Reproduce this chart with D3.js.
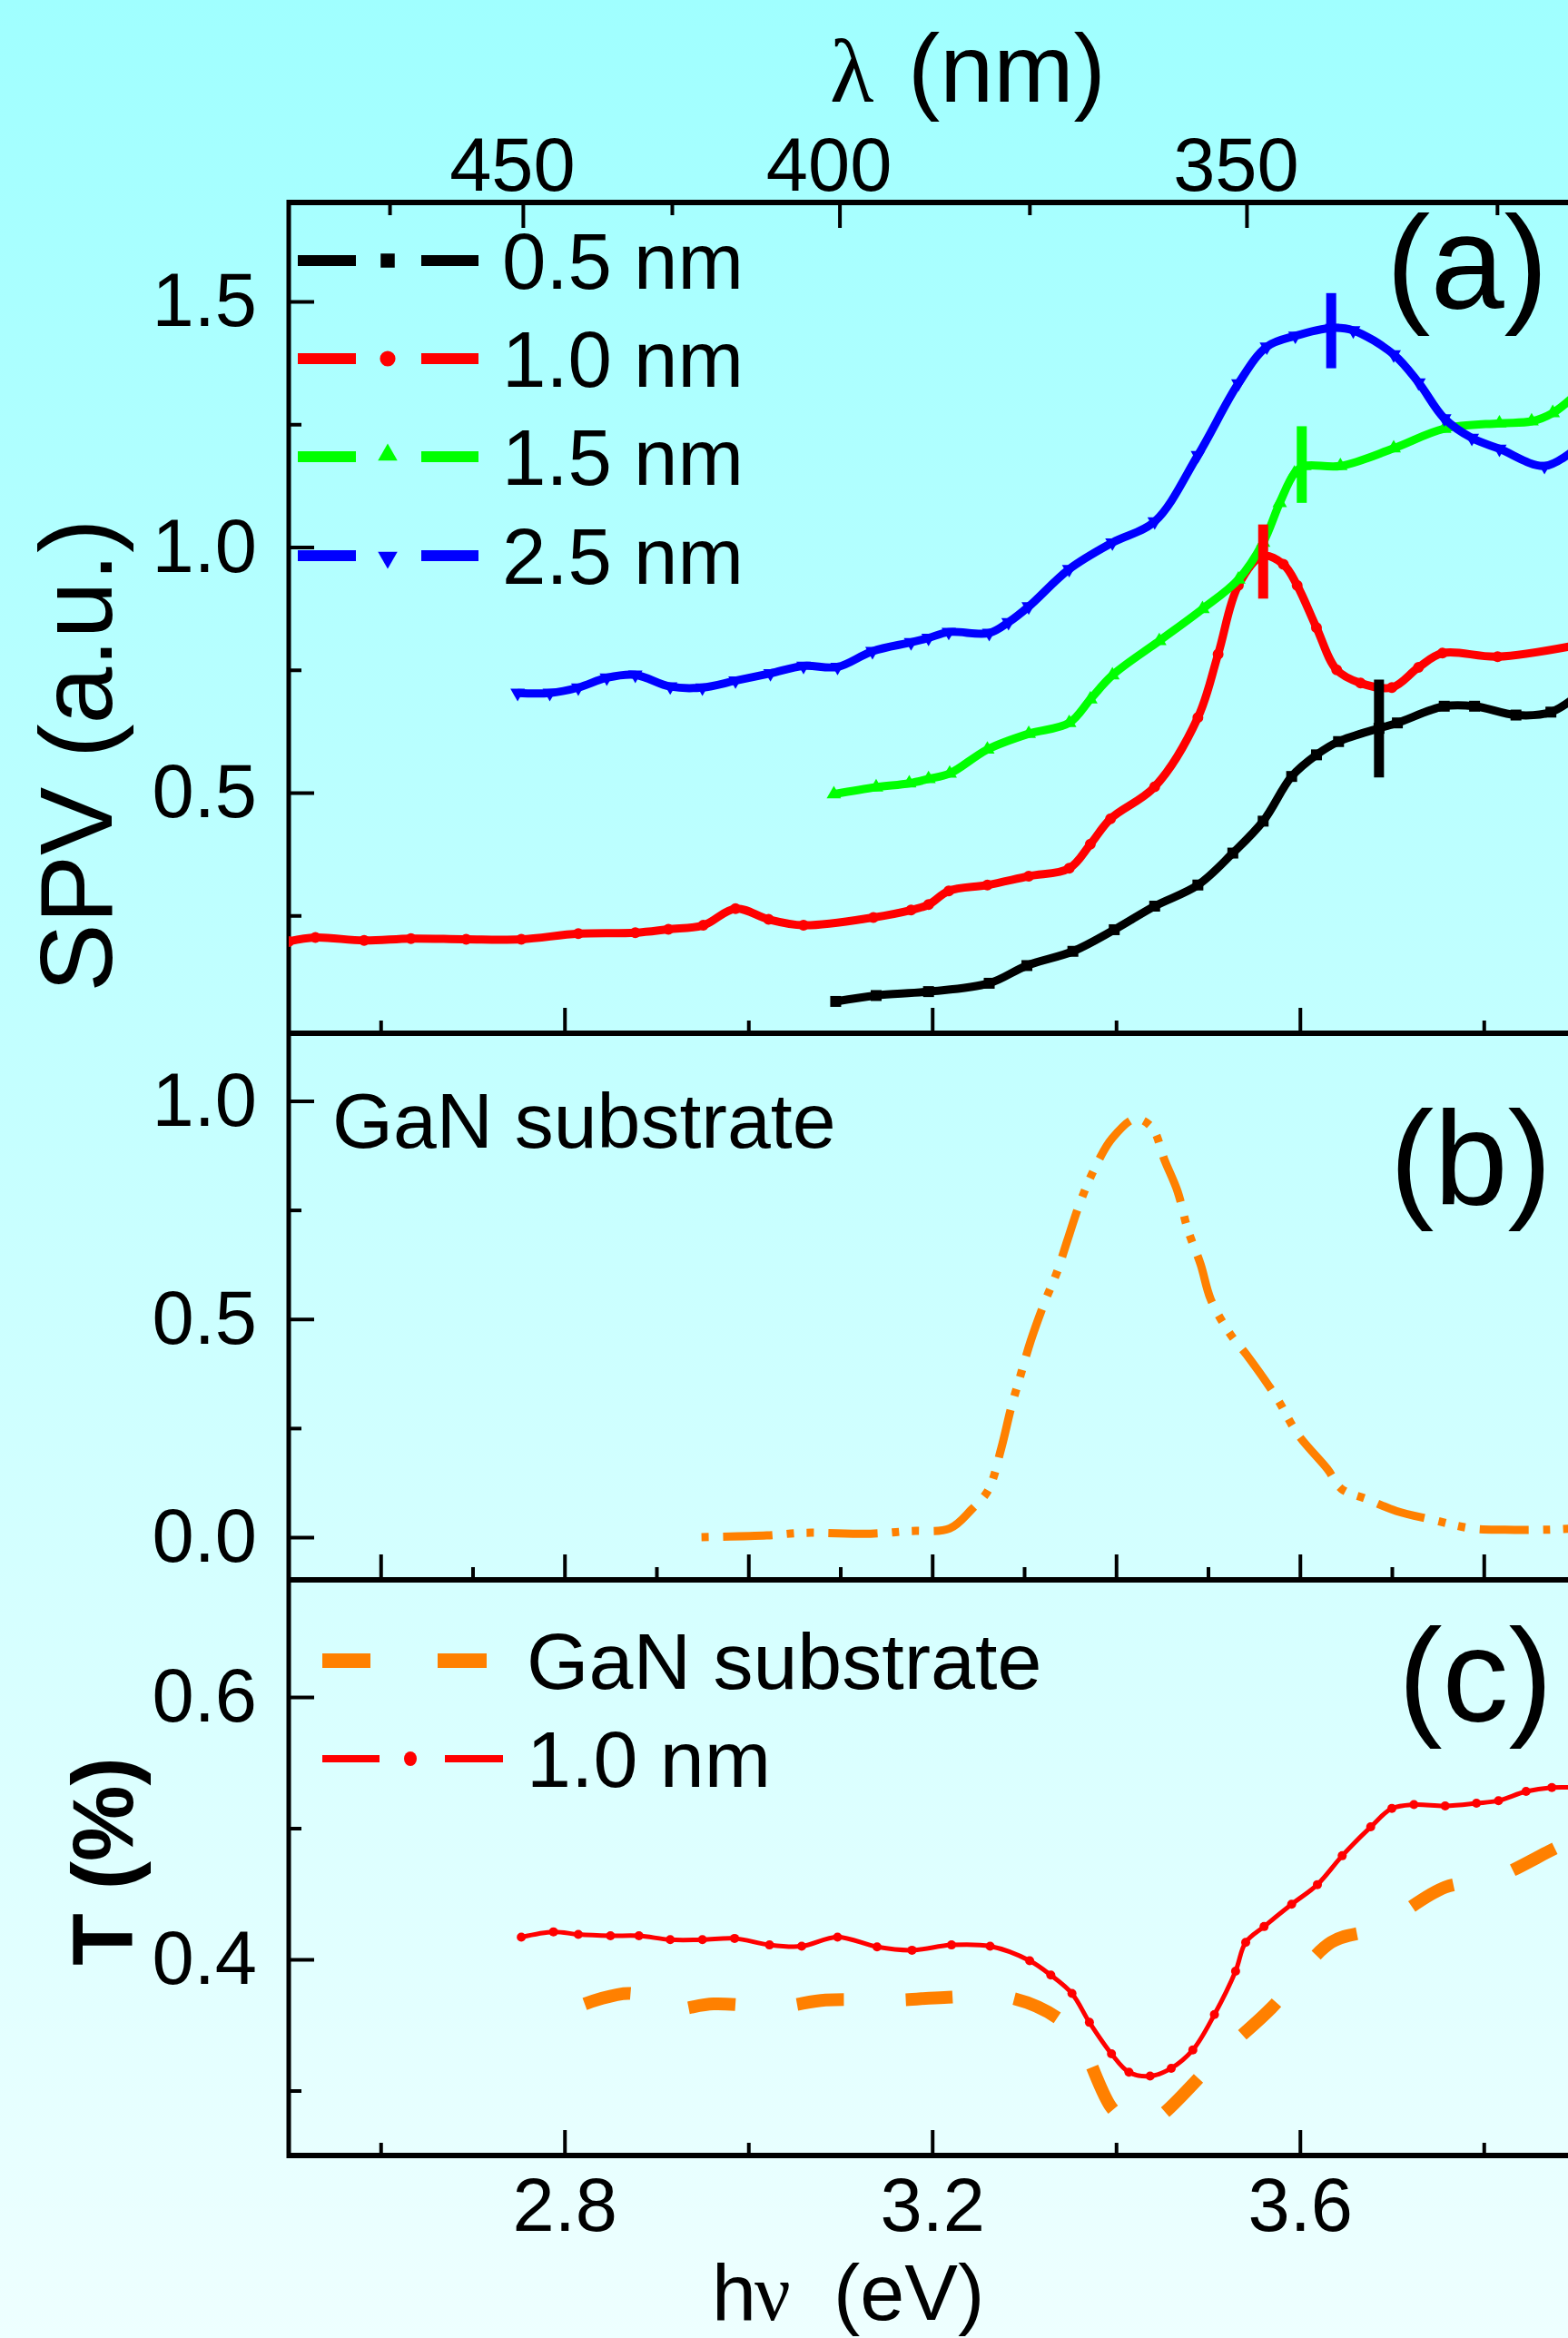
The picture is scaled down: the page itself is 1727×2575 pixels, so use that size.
<!DOCTYPE html>
<html><head><meta charset="utf-8">
<script src="https://cdn.jsdelivr.net/npm/d3@7"></script>
<style>html,body{margin:0;padding:0;overflow:hidden;background:#fff}</style>
</head><body>
<script>
// ---------- DATA ----------
// Panel (a): SPV vs photon energy (eV, SPV a.u.)
const spv05 = [[3.095,0.075],[3.139,0.087],[3.196,0.095],[3.262,0.112],[3.303,0.148],[3.353,0.177],[3.398,0.221],[3.442,0.269],[3.489,0.312],[3.527,0.377],[3.560,0.442],[3.591,0.533],[3.618,0.577],[3.642,0.604],[3.686,0.631],[3.706,0.642],[3.757,0.676],[3.790,0.676],[3.835,0.658],[3.873,0.664],[3.900,0.695]];
const spv10 = [[2.500,0.197],[2.529,0.205],[2.582,0.199],[2.633,0.203],[2.693,0.2015],[2.753,0.2015],[2.815,0.213],[2.877,0.215],[2.913,0.222],[2.951,0.230],[2.986,0.264],[3.022,0.242],[3.060,0.230],[3.136,0.246],[3.177,0.261],[3.196,0.272],[3.218,0.300],[3.260,0.312],[3.305,0.330],[3.349,0.346],[3.372,0.395],[3.394,0.447],[3.442,0.512],[3.489,0.653],[3.511,0.782],[3.533,0.922],[3.560,0.982],[3.582,0.965],[3.597,0.922],[3.618,0.836],[3.640,0.750],[3.666,0.723],[3.700,0.714],[3.729,0.755],[3.755,0.784],[3.815,0.777],[3.900,0.800]];
const spv15 = [[3.093,0.497],[3.139,0.511],[3.175,0.519],[3.196,0.528],[3.219,0.539],[3.260,0.588],[3.305,0.620],[3.349,0.642],[3.372,0.690],[3.396,0.739],[3.447,0.809],[3.494,0.874],[3.533,0.934],[3.560,1.009],[3.578,1.090],[3.594,1.150],[3.605,1.165],[3.644,1.165],[3.702,1.201],[3.757,1.241],[3.817,1.252],[3.852,1.256],[3.875,1.273],[3.900,1.310]];
const spv25 = [[2.749,0.703],[2.784,0.703],[2.815,0.714],[2.846,0.734],[2.877,0.740],[2.915,0.716],[2.950,0.714],[2.986,0.728],[3.024,0.743],[3.060,0.758],[3.097,0.756],[3.135,0.788],[3.177,0.806],[3.196,0.815],[3.218,0.827],[3.262,0.825],[3.283,0.847],[3.305,0.879],[3.349,0.955],[3.396,1.009],[3.442,1.052],[3.489,1.187],[3.533,1.333],[3.564,1.408],[3.595,1.430],[3.635,1.446],[3.658,1.441],[3.702,1.392],[3.729,1.335],[3.757,1.262],[3.787,1.222],[3.817,1.200],[3.866,1.165],[3.900,1.200]];
// peak-position bars: [energy, low, high]
const peakBars = [[3.686,0.531,0.730],[3.560,0.895,1.046],[3.602,1.090,1.246],[3.634,1.364,1.517]];
const seriesNames = ["0.5 nm","1.0 nm","1.5 nm","2.5 nm"];
const seriesColors = ["#000000","#ff0000","#00ff00","#0000ff"];

// Panel (b): GaN substrate SPV
const spvGaN = [[2.949,0.000],[3.020,0.004],[3.060,0.010],[3.133,0.008],[3.175,0.014],[3.219,0.020],[3.243,0.064],[3.261,0.108],[3.275,0.203],[3.286,0.298],[3.297,0.378],[3.307,0.449],[3.322,0.537],[3.336,0.609],[3.347,0.680],[3.361,0.768],[3.378,0.851],[3.396,0.915],[3.421,0.959],[3.439,0.939],[3.453,0.863],[3.467,0.792],[3.478,0.705],[3.492,0.625],[3.503,0.545],[3.524,0.466],[3.542,0.418],[3.574,0.322],[3.598,0.235],[3.630,0.156],[3.645,0.111],[3.673,0.087],[3.705,0.060],[3.744,0.040],[3.787,0.020],[3.823,0.017],[3.866,0.017],[3.900,0.020]];

// Panel (c): transmission T (%)
const tGaN = [[2.822,0.366],[2.872,0.374],[2.912,0.362],[2.962,0.366],[3.033,0.364],[3.084,0.369],[3.163,0.369],[3.213,0.371],[3.283,0.371],[3.337,0.355],[3.360,0.338],[3.395,0.287],[3.414,0.276],[3.429,0.273],[3.449,0.281],[3.518,0.330],[3.569,0.363],[3.634,0.413],[3.684,0.424],[3.758,0.455],[3.808,0.461],[3.885,0.487],[3.900,0.490]];
const t10 = [[2.753,0.417],[2.788,0.421],[2.815,0.419],[2.850,0.418],[2.881,0.418],[2.915,0.415],[2.950,0.415],[2.985,0.416],[3.023,0.411],[3.058,0.410],[3.097,0.417],[3.140,0.4095],[3.178,0.407],[3.221,0.411],[3.263,0.410],[3.306,0.399],[3.329,0.388],[3.352,0.374],[3.371,0.352],[3.395,0.328],[3.414,0.314],[3.437,0.311],[3.460,0.317],[3.4835,0.331],[3.507,0.358],[3.530,0.391],[3.541,0.413],[3.561,0.425],[3.591,0.442],[3.619,0.457],[3.646,0.479],[3.677,0.501],[3.700,0.515],[3.724,0.518],[3.758,0.517],[3.792,0.519],[3.816,0.521],[3.846,0.528],[3.874,0.531],[3.900,0.531]];

// Ticks
const xMajorAC = [2.8,3.2,3.6];
const xMinorAC = [2.6,3.0,3.4,3.8];
const xMajorB = [2.6,2.8,3.0,3.2,3.4,3.6,3.8];
const xMinorB = [2.7,2.9,3.1,3.3,3.5,3.7,3.9];
const yMajorA = [0.5,1.0,1.5], yMinorA = [0.25,0.75,1.25];
const yMajorB = [0.0,0.5,1.0], yMinorB = [0.25,0.75];
const yMajorC = [0.4,0.6], yMinorC = [0.3,0.5];
const lamMajor = [450,400,350], lamMinor = [475,425,375,325];
const HC = 1239.84;

// ---------- LAYOUT ----------
const W = 1727, H = 2575;
const L = 318;
const panels = {a:[223,1138], b:[1138,1740], c:[1740,2374]};
const FONT = "'Liberation Sans', Arial, Helvetica, sans-serif";
const SERIF = "'Liberation Serif', 'DejaVu Serif', serif";

const svg = d3.select("body").append("svg").attr("width", W).attr("height", H)
  .attr("font-family", FONT);
const defs = svg.append("defs");
const grad = defs.append("linearGradient").attr("id","bg").attr("x1",0).attr("y1",0).attr("x2",0).attr("y2",1);
grad.append("stop").attr("offset","0").attr("stop-color","#a0ffff");
grad.append("stop").attr("offset","1").attr("stop-color","#eeffff");
svg.append("rect").attr("width",W).attr("height",H).attr("fill","url(#bg)");

const x = d3.scaleLinear().domain([2.5,4.0]).range([L, L+1.5*1012.5]);
const yA = d3.scaleLinear().domain([0.0102,1.7015]).range([1138,223]);
const yB = d3.scaleLinear().domain([-0.0978,1.155]).range([1740,1138]);
const yC = d3.scaleLinear().domain([0.2505,0.6893]).range([2374,1740]);

Object.entries(panels).forEach(([k,[t,b]])=>{
  defs.append("clipPath").attr("id","clip"+k).append("rect")
    .attr("x",L).attr("y",t).attr("width",W-L+200).attr("height",b-t);
});

// ---------- AXES ----------
function styleAxis(g){
  g.select(".domain").remove();
  g.selectAll("line").attr("stroke","#000").attr("stroke-width",4);
  g.selectAll("text").attr("font-size",83).attr("font-family",FONT).attr("fill","#000");
  g.attr("font-family",FONT);
}
function bottomTicks(yPos, major, minor, labels){
  const g1 = svg.append("g").attr("transform",`translate(0,${yPos})`)
    .call(d3.axisBottom(x).tickValues(major).tickSize(-28).tickPadding(24)
      .tickFormat(labels ? d3.format(".1f") : ()=>""));
  styleAxis(g1);
  const g2 = svg.append("g").attr("transform",`translate(0,${yPos})`)
    .call(d3.axisBottom(x).tickValues(minor).tickSize(-14).tickFormat(()=>""));
  styleAxis(g2);
}
function leftTicks(y, major, minor){
  const g1 = svg.append("g").attr("transform",`translate(${L},0)`)
    .call(d3.axisLeft(y).tickValues(major).tickSize(-28).tickPadding(35).tickFormat(d3.format(".1f")));
  styleAxis(g1);
  const g2 = svg.append("g").attr("transform",`translate(${L},0)`)
    .call(d3.axisLeft(y).tickValues(minor).tickSize(-14).tickFormat(()=>""));
  styleAxis(g2);
}
bottomTicks(1138, xMajorAC, xMinorAC, false);
bottomTicks(1740, xMajorB, xMinorB, false);
bottomTicks(2374, xMajorAC, xMinorAC, true);
leftTicks(yA, yMajorA, yMinorA);
leftTicks(yB, yMajorB, yMinorB);
leftTicks(yC, yMajorC, yMinorC);

// top wavelength axis
const topAx = svg.append("g");
topAx.selectAll("line.maj").data(lamMajor).join("line").attr("class","maj")
  .attr("x1",d=>x(HC/d)).attr("x2",d=>x(HC/d)).attr("y1",223).attr("y2",251)
  .attr("stroke","#000").attr("stroke-width",4);
topAx.selectAll("line.min").data(lamMinor).join("line").attr("class","min")
  .attr("x1",d=>x(HC/d)).attr("x2",d=>x(HC/d)).attr("y1",223).attr("y2",237)
  .attr("stroke","#000").attr("stroke-width",4);
topAx.selectAll("text").data(lamMajor).join("text")
  .attr("x",d=>x(HC/d)-12).attr("y",210).attr("text-anchor","middle")
  .attr("font-size",83).text(d=>d);

// frame lines
const frame = svg.append("g").attr("stroke","#000");
[223,1138,1740,2374].forEach(yy=>{
  frame.append("line").attr("x1",L-2).attr("x2",W+10).attr("y1",yy).attr("y2",yy).attr("stroke-width",6);
});
frame.append("line").attr("x1",L).attr("x2",L).attr("y1",220).attr("y2",2377).attr("stroke-width",5);

// ---------- TITLES ----------
svg.append("text").attr("x",914).attr("y",112).attr("font-family",SERIF).attr("font-size",100).text("λ");
svg.append("text").attr("x",1000).attr("y",112).attr("font-size",106).text("(nm)");
svg.append("text").attr("x",784).attr("y",2555).attr("font-size",88).text("h");
svg.append("text").attr("x",831).attr("y",2555).attr("font-family",SERIF).attr("font-size",88).text("ν");
svg.append("text").attr("x",918).attr("y",2555).attr("font-size",88).text("(eV)");
svg.append("text").attr("transform","translate(123,832) rotate(-90)").attr("text-anchor","middle")
  .attr("font-size",113).text("SPV (a.u.)");
svg.append("text").attr("transform","translate(146,2050) rotate(-90)").attr("text-anchor","middle")
  .attr("font-size",94).attr("font-weight","bold").text("T (%)");
svg.append("text").attr("x",1616).attr("y",340).attr("text-anchor","middle").attr("font-size",146).text("(a)");
svg.append("text").attr("x",1620).attr("y",1326).attr("text-anchor","middle").attr("font-size",146).text("(b)");
svg.append("text").attr("x",1625).attr("y",1896).attr("text-anchor","middle").attr("font-size",146).text("(c)");
svg.append("text").attr("x",366).attr("y",1264).attr("font-size",86).text("GaN substrate");

// ---------- SERIES ----------
const curve = d3.curveCatmullRom.alpha(0.5);
const symbols = [d3.symbolSquare, d3.symbolCircle, d3.symbolTriangle, d3.symbolTriangle];
const symRot = [0,0,0,180];
const symSize = [144,113,110,110];
const spvSeries = [spv05, spv10, spv15, spv25];

const gA = svg.append("g").attr("clip-path","url(#clipa)");
spvSeries.forEach((data,i)=>{
  const line = d3.line().x(d=>x(d[0])).y(d=>yA(d[1])).curve(curve);
  gA.append("path").attr("d",line(data)).attr("fill","none")
    .attr("stroke",seriesColors[i]).attr("stroke-width",9).attr("stroke-linejoin","round");
  gA.selectAll(null).data(data).join("path")
    .attr("transform",d=>`translate(${x(d[0])},${yA(d[1])}) rotate(${symRot[i]})`)
    .attr("d",d3.symbol().type(symbols[i]).size(symSize[i])).attr("fill",seriesColors[i]);
});
gA.selectAll("line.bar").data(peakBars).join("line").attr("class","bar")
  .attr("x1",d=>x(d[0])).attr("x2",d=>x(d[0])).attr("y1",d=>yA(d[1])).attr("y2",d=>yA(d[2]))
  .attr("stroke",(d,i)=>seriesColors[i]).attr("stroke-width",11);

// legend (a)
const legRows = [287,395,503,612];
seriesNames.forEach((name,i)=>{
  const g = svg.append("g");
  g.append("line").attr("x1",328).attr("x2",392).attr("y1",legRows[i]).attr("y2",legRows[i])
    .attr("stroke",seriesColors[i]).attr("stroke-width",12);
  g.append("line").attr("x1",464).attr("x2",527).attr("y1",legRows[i]).attr("y2",legRows[i])
    .attr("stroke",seriesColors[i]).attr("stroke-width",12);
  g.append("path").attr("transform",`translate(427,${legRows[i]+ (i===2?-2: i===3?2:0)}) rotate(${symRot[i]})`)
    .attr("d",d3.symbol().type(symbols[i]).size([240,230,200,200][i])).attr("fill",seriesColors[i]);
  g.append("text").attr("x",553).attr("y",legRows[i]).attr("dy","0.355em").attr("font-size",87).text(name);
});

// panel (b)
const gB = svg.append("g").attr("clip-path","url(#clipb)");
gB.append("path").attr("d",d3.line().x(d=>x(d[0])).y(d=>yB(d[1])).curve(curve)(spvGaN))
  .attr("fill","none").attr("stroke","#ff8000").attr("stroke-width",9)
  .attr("stroke-dasharray","54,16,8,14,8,16").attr("stroke-dashoffset",92);

// panel (c)
const gC = svg.append("g").attr("clip-path","url(#clipc)");
gC.append("path").attr("d",d3.line().x(d=>x(d[0])).y(d=>yC(d[1])).curve(curve)(tGaN))
  .attr("fill","none").attr("stroke","#ff8000").attr("stroke-width",14)
  .attr("stroke-dasharray","52,68");
gC.append("path").attr("d",d3.line().x(d=>x(d[0])).y(d=>yC(d[1])).curve(curve)(t10))
  .attr("fill","none").attr("stroke","#ff0000").attr("stroke-width",5);
gC.selectAll("circle").data(t10).join("circle")
  .attr("cx",d=>x(d[0])).attr("cy",d=>yC(d[1])).attr("r",5).attr("fill","#ff0000");

// legend (c)
const lc = svg.append("g");
lc.append("line").attr("x1",355).attr("x2",408).attr("y1",1829).attr("y2",1829).attr("stroke","#ff8000").attr("stroke-width",16);
lc.append("line").attr("x1",482).attr("x2",536).attr("y1",1829).attr("y2",1829).attr("stroke","#ff8000").attr("stroke-width",16);
lc.append("text").attr("x",580).attr("y",1829).attr("dy","0.355em").attr("font-size",88).text("GaN substrate");
lc.append("line").attr("x1",355).attr("x2",418).attr("y1",1937).attr("y2",1937).attr("stroke","#ff0000").attr("stroke-width",8);
lc.append("line").attr("x1",490).attr("x2",554).attr("y1",1937).attr("y2",1937).attr("stroke","#ff0000").attr("stroke-width",8);
lc.append("ellipse").attr("cx",452).attr("cy",1937).attr("rx",7).attr("ry",8).attr("fill","#ff0000");
lc.append("text").attr("x",580).attr("y",1937).attr("dy","0.355em").attr("font-size",88).text("1.0 nm");
</script>
</body></html>
